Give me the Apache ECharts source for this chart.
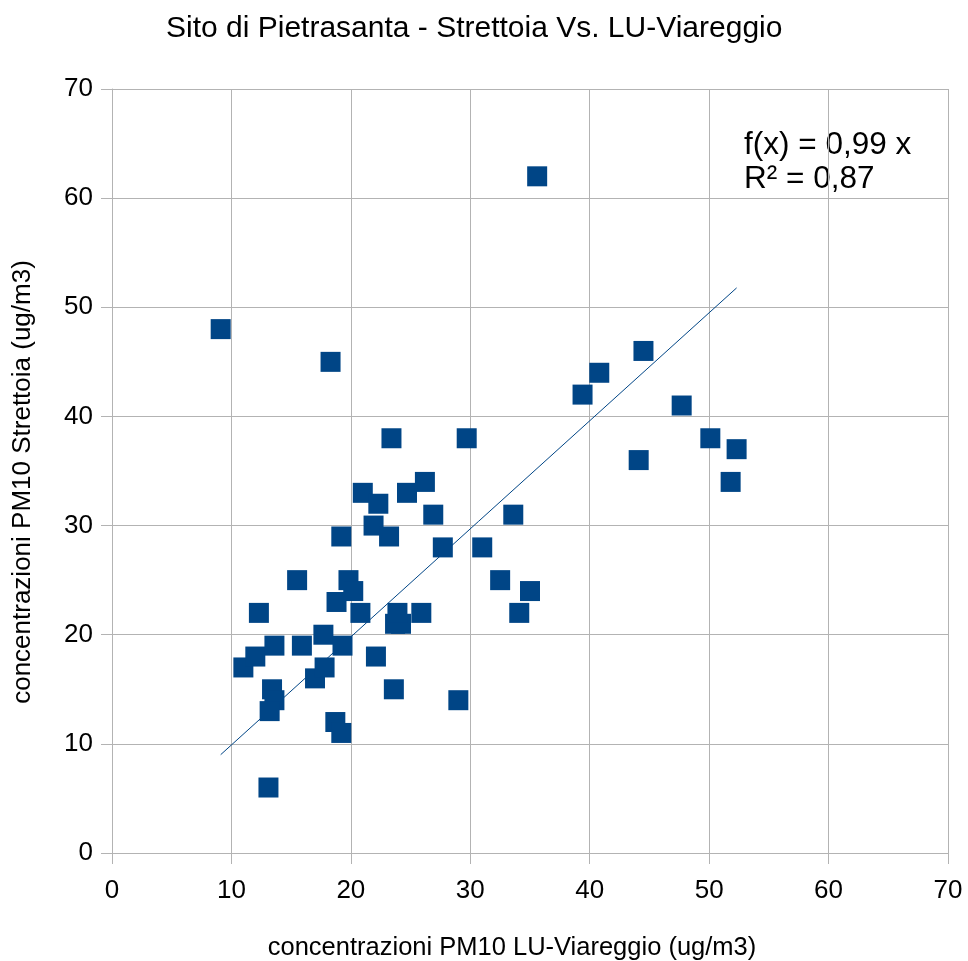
<!DOCTYPE html>
<html>
<head>
<meta charset="utf-8">
<title>Sito di Pietrasanta - Strettoia Vs. LU-Viareggio</title>
<script src="https://cdn.jsdelivr.net/npm/echarts@6/dist/echarts.min.js"></script>
<style>
  html, body { margin: 0; padding: 0; background: #fff; }
  #chart { width: 968px; height: 961px; }
</style>
</head>
<body>
<div id="chart"></div>
<script>
// concentrazioni PM10 LU-Viareggio (x)
var viareggio = [9.1, 18.3, 35.6, 11.0, 12.0, 12.3, 13.6, 13.4, 13.6, 13.2, 13.1, 15.5, 15.9, 17.0,
  17.7, 17.8, 18.7, 19.2, 18.8, 19.3, 19.2, 19.8, 20.2, 20.8, 21.0, 21.9, 22.3, 22.1, 23.2, 23.4,
  23.6, 23.7, 24.2, 23.9, 24.7, 25.9, 26.2, 26.9, 27.7, 29.0, 29.7, 31.0, 32.5, 33.6, 34.1, 35.0,
  39.4, 40.8, 44.1, 44.5, 47.7, 50.1, 51.8, 52.3];
// concentrazioni PM10 Strettoia (y)
var strettoia = [48, 45, 62, 17, 18, 22, 19, 15, 14, 13, 6, 25, 19, 16,
  20, 17, 12, 11, 23, 19, 29, 25, 24, 22, 33, 30, 32, 18, 29, 38,
  15, 21, 21, 22, 33, 22, 34, 31, 28, 14, 38, 28, 25, 31, 22, 24,
  42, 44, 36, 46, 41, 38, 34, 37];
var slope = 0.99;          // f(x) = 0,99 x
var eqLines = ['f(x) = 0,99 x', 'R² = 0,87'];
var axisTicks = [0, 10, 20, 30, 40, 50, 60, 70];

var points = viareggio.map(function (v, i) { return [v, strettoia[i]]; });
var xMin = Math.min.apply(null, viareggio);
var xMax = Math.max.apply(null, viareggio);
var trend = [[xMin, slope * xMin], [xMax, slope * xMax]];

var FONT = '"Liberation Sans", Arial, sans-serif';
var gridColor = '#b3b3b3';

var chart = echarts.init(document.getElementById('chart'));

var axisCommon = {
  type: 'value',
  min: axisTicks[0],
  max: axisTicks[axisTicks.length - 1],
  interval: 10,
  nameLocation: 'middle',
  axisLine: { show: true, lineStyle: { color: gridColor, width: 1 } },
  axisTick: { show: true, inside: false, length: 11, lineStyle: { color: gridColor } },
  splitLine: { show: true, lineStyle: { color: gridColor, width: 1 } },
  axisLabel: { color: '#000', fontSize: 26, fontFamily: FONT }
};

var option = {
  backgroundColor: '#fff',
  animation: false,
  title: {
    text: 'Sito di Pietrasanta - Strettoia Vs. LU-Viareggio',
    left: 161,
    top: 9,
    textStyle: { color: '#000', fontSize: 30, fontWeight: 'normal', fontFamily: FONT }
  },
  grid: { left: 112, right: 20, top: 89, bottom: 108, containLabel: false, outerBoundsMode: 'none' },
  xAxis: Object.assign({}, axisCommon, {
    name: 'concentrazioni PM10 LU-Viareggio (ug/m3)',
    nameGap: 82,
    // testo spostato un po' a sinistra come nell'originale
    nameTextStyle: { color: '#000', fontSize: 25.5, fontFamily: FONT, padding: [0, 36, 0, 0] },
    axisLabel: Object.assign({}, axisCommon.axisLabel, { margin: 25 })
  }),
  yAxis: Object.assign({}, axisCommon, {
    name: 'concentrazioni PM10 Strettoia (ug/m3)',
    nameGap: 76,
    nameTextStyle: { color: '#000', fontSize: 26, fontFamily: FONT, padding: [0, 22, 0, 0] },
    axisLabel: Object.assign({}, axisCommon.axisLabel, { margin: 19 })
  }),
  graphic: [{
    type: 'text',
    left: 744,
    top: 128,
    style: {
      text: eqLines.join('\n'),
      fill: '#000',
      font: '31.5px ' + FONT,
      lineHeight: 34
    }
  }],
  series: [{
    type: 'scatter',
    symbol: 'rect',
    symbolSize: 20,
    itemStyle: { color: '#004586', opacity: 1 },
    data: points,
    z: 3
  }, {
    type: 'line',
    data: trend,
    symbol: 'none',
    lineStyle: { color: '#004586', width: 1 },
    z: 2
  }]
};

chart.setOption(option);
</script>
</body>
</html>
